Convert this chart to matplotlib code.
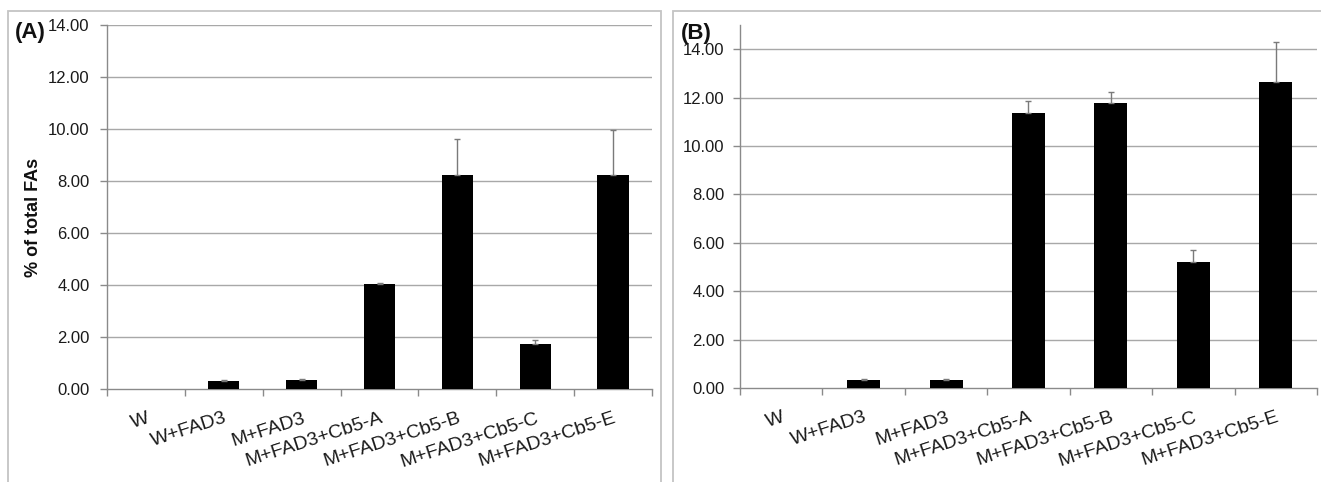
import matplotlib
matplotlib.use("Agg")
import matplotlib.pyplot as plt
from matplotlib.patches import Rectangle
import numpy as np

plt.rcParams['font.family'] = ['Liberation Sans', 'DejaVu Sans']

categories = ["W", "W+FAD3", "M+FAD3", "M+FAD3+Cb5-A", "M+FAD3+Cb5-B",
              "M+FAD3+Cb5-C", "M+FAD3+Cb5-E"]
values_a = [0.0, 0.31, 0.34, 4.03, 8.22, 1.73, 8.22]
errors_a = [0.0, 0.05, 0.05, 0.03, 1.40, 0.14, 1.75]
values_b = [0.0, 0.33, 0.35, 11.38, 11.79, 5.22, 12.63]
errors_b = [0.0, 0.03, 0.01, 0.48, 0.43, 0.48, 1.66]
yticks_a = [0, 2, 4, 6, 8, 10, 12, 14]
yticks_b = [0, 2, 4, 6, 8, 10, 12, 14]

W, H = 1321, 482
fig = plt.figure(figsize=(W / 100, H / 100), dpi=100)

def px_axes(x0, x1, ytop, ybot):
    return fig.add_axes([x0 / W, 1 - ybot / H, (x1 - x0) / W, (ybot - ytop) / H])

# panel frames
frame_col = '#c4c4c4'
fig.add_artist(Rectangle((8 / W, -0.1), (661 - 8) / W, 1 - 11 / H + 0.1,
                         transform=fig.transFigure, fill=False,
                         edgecolor=frame_col, linewidth=1.3))
fig.add_artist(Rectangle((673 / W, -0.1), (1330 - 673) / W, 1 - 11 / H + 0.1,
                         transform=fig.transFigure, fill=False,
                         edgecolor=frame_col, linewidth=1.3, clip_on=False))

ax_a = px_axes(107, 652, 25, 389)
ax_b = px_axes(740, 1317, 25, 388)

def style(ax, vals, errs, ymax, yticks, ypad):
    x = np.arange(len(categories))
    ax.bar(x, vals, width=0.4, color='black', zorder=3)
    idx = [i for i, e in enumerate(errs) if e > 0]
    ax.errorbar([x[i] for i in idx], [vals[i] for i in idx],
                yerr=[[0] * len(idx), [errs[i] for i in idx]], fmt='none',
                ecolor='#7a7a7a', elinewidth=1.0, capsize=2, capthick=1.0,
                zorder=4)
    ax.set_xlim(-0.5, len(categories) - 0.5)
    ax.set_ylim(0, ymax)
    ax.set_yticks(yticks)
    ax.set_yticklabels([f"{v:.2f}" for v in yticks], fontsize=12,
                       color='#1a1a1a')
    for t in yticks:
        if t > 0:
            ax.axhline(t, color='#a8a8a8', linewidth=1.0, zorder=1)
    ax.set_xticks(x)
    ax.set_xticklabels(categories, rotation=18, ha='right',
                       rotation_mode='anchor', fontsize=14, color='#1a1a1a')
    ax.set_xticks(np.arange(-0.5, len(categories)), minor=True)
    ax.tick_params(axis='x', which='major', length=0, pad=15)
    ax.tick_params(axis='x', which='minor', length=5, color='#8a8a8a',
                   width=1.0, direction='out')
    ax.tick_params(axis='y', which='major', length=5, color='#8a8a8a',
                   width=1.0, direction='out', pad=ypad)
    for s in ['top', 'right']:
        ax.spines[s].set_visible(False)
    for s in ['left', 'bottom']:
        ax.spines[s].set_color('#8a8a8a')
        ax.spines[s].set_linewidth(1.0)
    ax.set_facecolor('none')

style(ax_a, values_a, errors_a, 14, yticks_a, 7.5)
style(ax_b, values_b, errors_b, 15, yticks_b, 6)

fig.text(33 / W, 1 - 217 / H, "% of total FAs", rotation=90, fontsize=13,
         fontweight='bold', ha='center', va='center', color='#111111')
fig.text(15 / W, 1 - 38 / H, "(A)", fontsize=16, fontweight='bold',
         ha='left', va='baseline', color='#111111')
fig.text(681 / W, 1 - 39 / H, "(B)", fontsize=16, fontweight='bold',
         ha='left', va='baseline', color='#111111')

fig.savefig("out.png", dpi=100)
